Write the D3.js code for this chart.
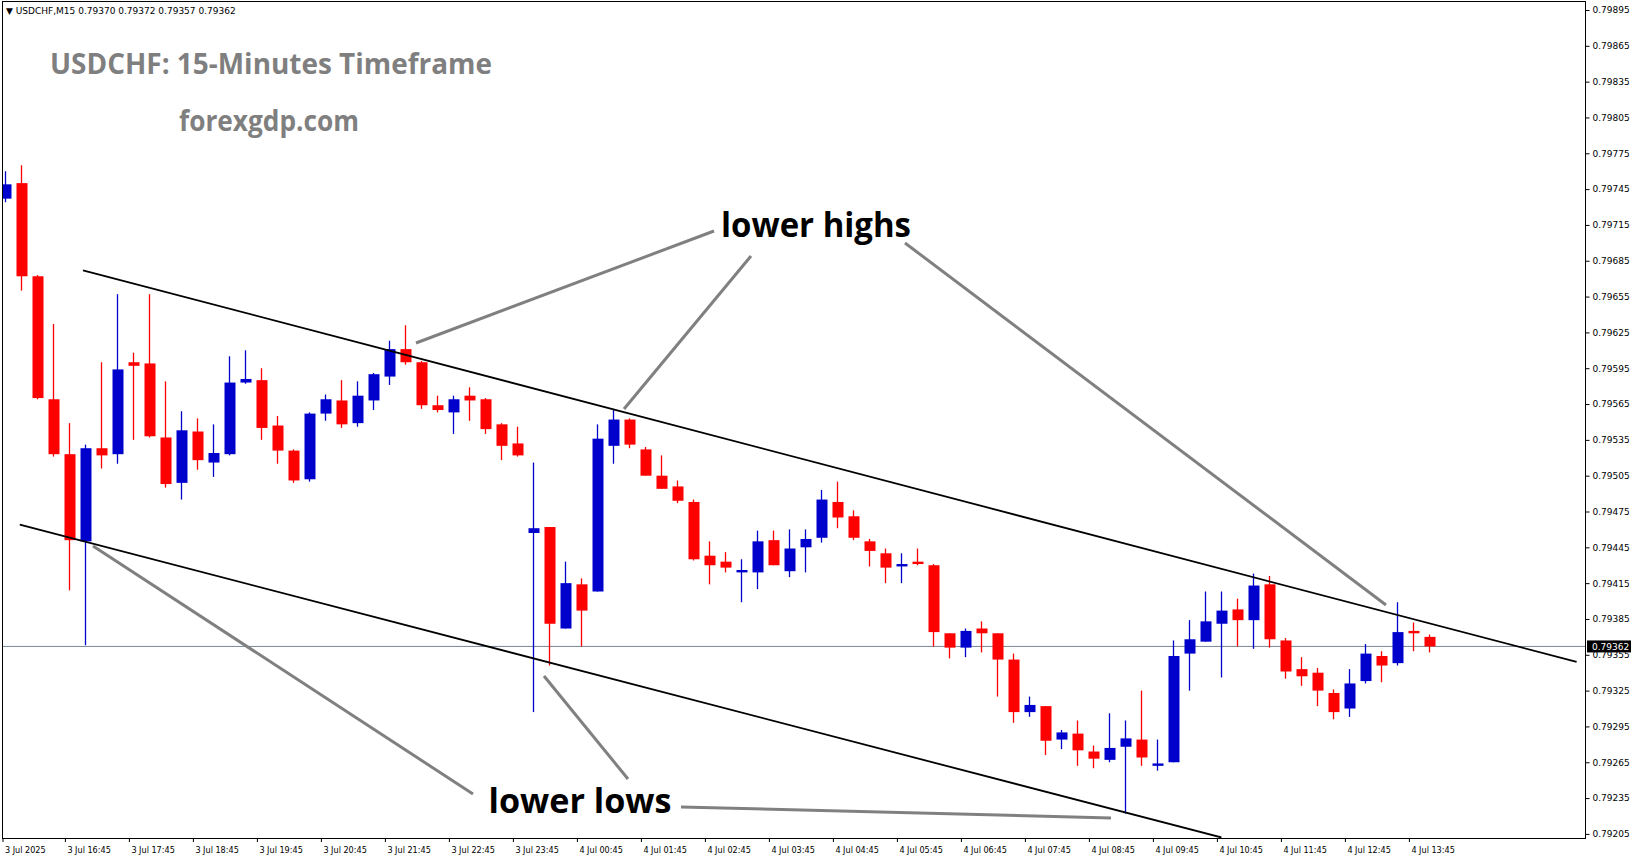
<!DOCTYPE html>
<html>
<head>
<meta charset="utf-8">
<script src="https://cdn.jsdelivr.net/npm/d3@7"></script>
<style>
  body { margin: 0; background: #fff; }
  svg { display: block; }
</style>
</head>
<body>
<div id="chart"></div>
<script>
// USDCHF M15 candles
const opens = [0.79737,0.79750,0.79672,0.79569,0.79523,0.79450,0.79528,0.79523,0.79600,0.79599,
  0.79537,0.79499,0.79542,0.79516,0.79523,0.79583,0.79585,0.79547,0.79526,0.79502,
  0.79557,0.79568,0.79549,0.79568,0.79588,0.79611,0.79600,0.79564,0.79558,0.79572,
  0.79569,0.79548,0.79532,0.79457,0.79462,0.79377,0.79414,0.79408,0.79530,0.79552,
  0.79527,0.79505,0.79496,0.79483,0.79438,0.79433,0.79424,0.79424,0.79451,0.79425,
  0.79445,0.79453,0.79483,0.79471,0.79450,0.79440,0.79429,0.79433,0.79430,0.79373,
  0.79361,0.79377,0.79373,0.79351,0.79307,0.79312,0.79284,0.79289,0.79274,0.79267,
  0.79278,0.79284,0.79262,0.79265,0.79356,0.79366,0.79381,0.79393,0.79384,0.79414,
  0.79367,0.79343,0.79340,0.79323,0.79310,0.79333,0.79354,0.79348,0.79375,0.79370];
const highs = [0.79760,0.79765,0.79673,0.79632,0.79549,0.79531,0.79600,0.79657,0.79608,0.79657,
  0.79584,0.79559,0.79553,0.79548,0.79605,0.79610,0.79595,0.79555,0.79527,0.79558,
  0.79573,0.79585,0.79584,0.79591,0.79618,0.79631,0.79601,0.79572,0.79572,0.79579,
  0.79570,0.79549,0.79546,0.79516,0.79462,0.79433,0.79419,0.79548,0.79561,0.79553,
  0.79529,0.79522,0.79501,0.79485,0.79450,0.79441,0.79435,0.79459,0.79459,0.79460,
  0.79460,0.79493,0.79500,0.79476,0.79452,0.79444,0.79440,0.79444,0.79431,0.79373,
  0.79377,0.79383,0.79373,0.79356,0.79320,0.79312,0.79292,0.79300,0.79279,0.79306,
  0.79300,0.79325,0.79284,0.79367,0.79384,0.79408,0.79408,0.79402,0.79423,0.79421,
  0.79369,0.79353,0.79344,0.79326,0.79343,0.79364,0.79358,0.79399,0.79382,0.79372];
const lows = [0.79734,0.79660,0.79569,0.79521,0.79409,0.79363,0.79511,0.79515,0.79535,0.79537,
  0.79495,0.79485,0.79510,0.79504,0.79522,0.79582,0.79535,0.79515,0.79499,0.79500,
  0.79551,0.79545,0.79546,0.79560,0.79581,0.79598,0.79561,0.79558,0.79540,0.79551,
  0.79540,0.79518,0.79521,0.79307,0.79346,0.79377,0.79362,0.79408,0.79515,0.79528,
  0.79505,0.79494,0.79482,0.79434,0.79414,0.79424,0.79399,0.79410,0.79430,0.79420,
  0.79424,0.79449,0.79461,0.79451,0.79429,0.79415,0.79415,0.79430,0.79362,0.79352,
  0.79353,0.79357,0.79320,0.79298,0.79303,0.79271,0.79276,0.79262,0.79260,0.79265,
  0.79222,0.79262,0.79258,0.79265,0.79325,0.79366,0.79336,0.79362,0.79360,0.79361,
  0.79335,0.79329,0.79312,0.79301,0.79303,0.79331,0.79332,0.79346,0.79358,0.79357];
const closes = [0.79749,0.79672,0.79570,0.79523,0.79451,0.79528,0.79522,0.79594,0.79597,0.79538,
  0.79498,0.79543,0.79518,0.79524,0.79583,0.79586,0.79545,0.79526,0.79501,0.79557,
  0.79569,0.79548,0.79572,0.79590,0.79611,0.79600,0.79564,0.79560,0.79569,0.79568,
  0.79544,0.79530,0.79522,0.79461,0.79381,0.79415,0.79392,0.79536,0.79552,0.79531,
  0.79505,0.79494,0.79484,0.79435,0.79430,0.79428,0.79426,0.79450,0.79430,0.79444,
  0.79452,0.79485,0.79470,0.79453,0.79442,0.79428,0.79431,0.79431,0.79374,0.79361,
  0.79375,0.79373,0.79351,0.79307,0.79313,0.79283,0.79290,0.79275,0.79268,0.79277,
  0.79285,0.79269,0.79264,0.79354,0.79368,0.79383,0.79392,0.79384,0.79413,0.79368,
  0.79341,0.79337,0.79325,0.79307,0.79331,0.79356,0.79346,0.79374,0.79373,0.79362];

const timeLabels = ['3 Jul 2025','3 Jul 16:45','3 Jul 17:45','3 Jul 18:45','3 Jul 19:45','3 Jul 20:45',
  '3 Jul 21:45','3 Jul 22:45','3 Jul 23:45','4 Jul 00:45','4 Jul 01:45','4 Jul 02:45','4 Jul 03:45',
  '4 Jul 04:45','4 Jul 05:45','4 Jul 06:45','4 Jul 07:45','4 Jul 08:45','4 Jul 09:45','4 Jul 10:45',
  '4 Jul 11:45','4 Jul 12:45','4 Jul 13:45'];
const priceTicks = d3.range(0, 24).map(i => +(0.79205 + i * 0.0003).toFixed(5));
const lastPrice = 0.79362;

// channel lines: [bar index, price]
const upperLine = [[4.85, 0.79677], [98.2, 0.79349]];
const lowerLine = [[0.9, 0.79464], [76.0, 0.79202]];

const W = 1631, H = 861;
const plot = { left: 2, top: 1, right: 1585, bottom: 838 };

const svg = d3.select('#chart').append('svg').attr('width', W).attr('height', H);

const x = d3.scaleLinear().domain([0, 89]).range([5.4, 5.4 + 16 * 89]);
const y = d3.scaleLinear().domain([0.79205, 0.79895]).range([833.9, 10]);

svg.append('clipPath').attr('id', 'clip')
  .append('rect').attr('x', plot.left).attr('y', plot.top)
  .attr('width', plot.right - plot.left).attr('height', plot.bottom - plot.top);

const g = svg.append('g').attr('clip-path', 'url(#clip)');

// last price line
g.append('line')
  .attr('x1', plot.left).attr('x2', plot.right)
  .attr('y1', y(lastPrice)).attr('y2', y(lastPrice))
  .attr('stroke', '#778899').attr('stroke-width', 1);

// candles
const bars = opens.map((o, i) => ({ i, o, h: highs[i], l: lows[i], c: closes[i] }));
const cg = g.selectAll('g.candle').data(bars).enter().append('g').attr('class', 'candle');
const col = d => d.c >= d.o ? '#0000cd' : '#ff0000';
cg.append('line')
  .attr('x1', d => Math.round(x(d.i)) + 0.5).attr('x2', d => Math.round(x(d.i)) + 0.5)
  .attr('y1', d => y(d.h)).attr('y2', d => y(d.l))
  .attr('stroke', col).attr('stroke-width', 1.3);
cg.append('rect')
  .attr('x', d => Math.round(x(d.i)) - 4.5)
  .attr('width', 11)
  .attr('y', d => y(Math.max(d.o, d.c)))
  .attr('height', d => Math.max(2, Math.abs(y(d.o) - y(d.c))))
  .attr('fill', col);

// channel
[upperLine, lowerLine].forEach(l => {
  g.append('line')
    .attr('x1', x(l[0][0])).attr('y1', y(l[0][1]))
    .attr('x2', x(l[1][0])).attr('y2', y(l[1][1]))
    .attr('stroke', '#000').attr('stroke-width', 1.8);
});

// annotation pointers
const pointers = [
  [416, 343, 714, 231], [624, 409, 751, 256], [905, 243, 1386, 605],
  [93, 546, 473, 794], [544, 676, 628, 779], [681, 807, 1111, 818]
];
g.selectAll('line.ptr').data(pointers).enter().append('line')
  .attr('class', 'ptr')
  .attr('x1', d => d[0]).attr('y1', d => d[1]).attr('x2', d => d[2]).attr('y2', d => d[3])
  .attr('stroke', '#808080').attr('stroke-width', 3);

const bold = (t, cx, cy, size, fill, len) => svg.append('text')
  .attr('x', cx).attr('y', cy).attr('text-anchor', 'middle').attr('dominant-baseline', 'middle')
  .attr('font-family', 'Open Sans, sans-serif').attr('font-weight', 'bold')
  .attr('font-size', size).attr('fill', fill)
  .attr('textLength', len).attr('lengthAdjust', 'spacingAndGlyphs').text(t);
bold('lower highs', 816, 228, 34, '#000', 190);
bold('lower lows', 580, 804, 34, '#000', 183);
bold('USDCHF: 15-Minutes Timeframe', 271, 66, 29, '#7f7f7f', 442);
bold('forexgdp.com', 269, 124, 28, '#7f7f7f', 180);

// header
svg.append('text').attr('x', 6).attr('y', 14)
  .attr('font-family', 'DejaVu Sans, sans-serif').attr('font-size', 9).attr('fill', '#000')
  .text('\u25BC USDCHF,M15  0.79370 0.79372 0.79357 0.79362');

// frame
svg.append('rect').attr('x', plot.left + 0.5).attr('y', plot.top + 0.5)
  .attr('width', plot.right - plot.left).attr('height', plot.bottom - plot.top)
  .attr('fill', 'none').attr('stroke', '#000').attr('stroke-width', 1);

// price axis
const yAxis = svg.append('g').attr('transform', `translate(${plot.right + 0.5},0)`)
  .call(d3.axisRight(y).tickValues(priceTicks).tickSize(4).tickFormat(d3.format('.5f')));
yAxis.select('.domain').remove();
yAxis.selectAll('text').attr('font-family', 'DejaVu Sans, sans-serif').attr('font-size', 9).attr('x', 7);

// last price label
svg.append('rect').attr('x', plot.right + 2).attr('y', y(lastPrice) - 6)
  .attr('width', 44).attr('height', 12).attr('fill', '#000');
svg.append('text').attr('x', plot.right + 7).attr('y', y(lastPrice) + 4)
  .attr('font-family', 'DejaVu Sans, sans-serif').attr('font-size', 9).attr('fill', '#fff')
  .text(d3.format('.5f')(lastPrice));

// time axis
const tx = svg.append('g');
timeLabels.forEach((t, k) => {
  const px = k === 0 ? plot.left + 1 : x(k * 4) - 4;
  tx.append('line').attr('x1', px).attr('x2', px).attr('y1', plot.bottom).attr('y2', plot.bottom + 4)
    .attr('stroke', '#000');
  tx.append('text').attr('x', px + 2).attr('y', plot.bottom + 15)
    .attr('font-family', 'DejaVu Sans Condensed, DejaVu Sans, sans-serif').attr('font-size', 9)
    .text(t);
});
</script>
</body>
</html>
